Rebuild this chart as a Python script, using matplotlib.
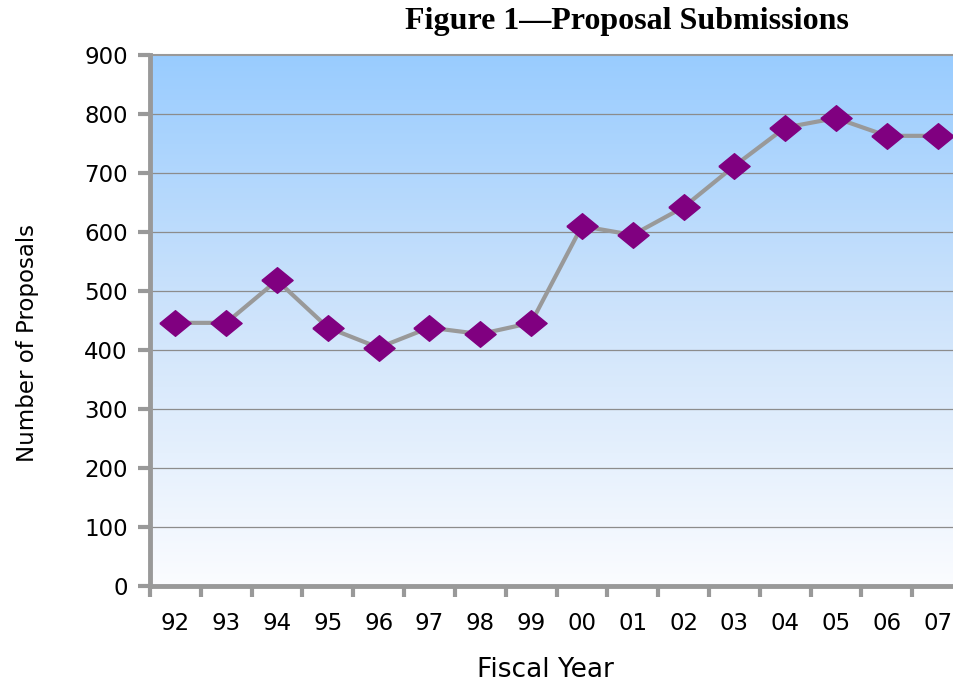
import numpy as np
import matplotlib.pyplot as plt
from matplotlib.colors import LinearSegmentedColormap

years = ["92", "93", "94", "95", "96", "97", "98", "99",
         "00", "01", "02", "03", "04", "05", "06", "07"]
proposals = [446, 446, 518, 438, 404, 438, 427, 446,
             610, 595, 642, 712, 777, 793, 763, 763]
y_ticks = [0, 100, 200, 300, 400, 500, 600, 700, 800, 900]

tick_font = "DejaVu Sans"
grey = "#999999"

fig = plt.figure(figsize=(9.54, 6.86), dpi=100)
ax = fig.add_axes([150 / 954, 100 / 686, 813 / 954, 531 / 686])

x = np.arange(len(years))
ax.set_xlim(-0.5, len(years) - 0.5)
ax.set_ylim(0, 900)

# blue to white gradient background
cmap = LinearSegmentedColormap.from_list("bg", ["#fbfcff", "#cfe4fb", "#99ccff"])
grad = np.linspace(0, 1, 256).reshape(-1, 1)
ax.imshow(grad, cmap=cmap, origin="lower", aspect="auto",
          extent=(-0.5, len(years) - 0.5, 0, 900), zorder=0)

for v in y_ticks[1:-1]:
    ax.axhline(v, color="#8c8c8c", lw=0.9, zorder=1)

diamond = [(-1, 0), (0, 0.82), (1, 0), (0, -0.82), (-1, 0)]
ax.plot(x, proposals, color=grey, lw=3, zorder=2)
ax.plot(x, proposals, ls="none", marker=diamond, markersize=22.5,
        color="#800080", zorder=3)

ax.set_yticks(y_ticks)
ax.set_yticklabels([str(v) for v in y_ticks], fontsize=16.5, family=tick_font)
ax.set_xticks(x)
ax.set_xticklabels(years, fontsize=16.5, family=tick_font)
ax.set_xticks(np.arange(len(years) + 1) - 0.5, minor=True)
ax.tick_params(axis="x", which="major", length=0, pad=19)
ax.tick_params(axis="x", which="minor", length=8, width=3, color=grey)
ax.tick_params(axis="y", length=9, width=3, color=grey, pad=7)

for side in ["left", "bottom"]:
    ax.spines[side].set_color(grey)
    ax.spines[side].set_linewidth(3.5)
ax.spines["top"].set_color(grey)
ax.spines["top"].set_linewidth(1.5)
ax.spines["right"].set_visible(False)

ax.set_ylabel("Number of Proposals", fontsize=16.5, family=tick_font)
ax.yaxis.set_label_coords(-0.137, 0.458)
ax.set_xlabel("Fiscal Year", fontsize=19, family=tick_font)
ax.xaxis.set_label_coords(0.487, -0.134)

fig.text(627 / 954, 1 - 22 / 686, "Figure 1\u2014Proposal Submissions",
         ha="center", va="center", fontsize=23, fontweight="bold",
         family="Liberation Serif")

fig.savefig("out.png", dpi=100)
